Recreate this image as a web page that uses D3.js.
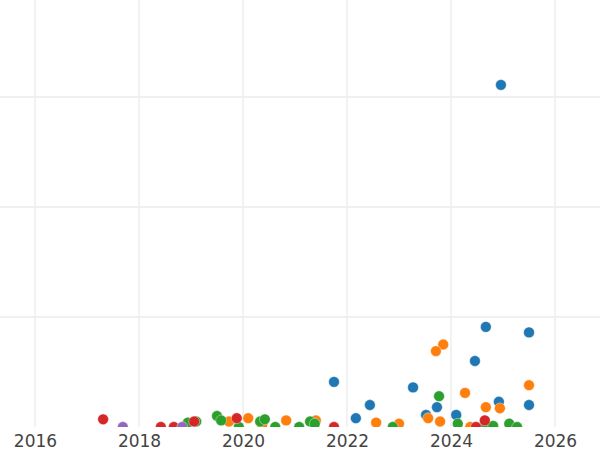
<!DOCTYPE html>
<html>
<head>
<meta charset="utf-8">
<script src="https://cdn.jsdelivr.net/npm/d3@7"></script>
<style>
  html, body { margin: 0; padding: 0; background: #fff; }
  svg { display: block; }
</style>
</head>
<body>
<div id="chart"></div>
<script>
// ---- data (x: decimal year, y: value) ----
const seriesNames = ["blue", "orange", "green", "red", "purple"];
const seriesColors = ["#1f77b4", "#ff7f0e", "#2ca02c", "#d62728", "#9467bd"];

const blueX = [2024.96, 2024.67, 2025.50, 2024.46, 2021.75, 2023.27, 2022.44, 2024.92, 2025.50, 2023.73, 2023.52, 2024.10, 2022.17];
const blueY = [311, 91, 86, 60, 41, 36, 20, 23, 20, 18, 11, 11, 8];

const orangeX = [2023.85, 2023.71, 2025.50, 2024.27, 2024.67, 2024.94, 2023.56, 2023.79, 2022.56, 2023.00, 2021.40, 2020.83, 2020.10, 2019.73, 2020.37, 2024.37];
const orangeY = [75, 69, 38, 31, 18, 17, 8, 5, 4, 3, 6, 6, 8, 5, 2, 0];

const greenX = [2023.77, 2019.50, 2019.58, 2019.92, 2020.33, 2020.42, 2020.62, 2021.08, 2021.29, 2021.38, 2022.88, 2024.13, 2024.65, 2024.81, 2025.12, 2025.27, 2018.94, 2019.10];
const greenY = [28, 10, 6, 0, 5, 7, 0, 0, 5, 3, 0, 3, 2, 1, 3, 0, 4, 5];

const redX = [2017.31, 2018.42, 2018.67, 2019.06, 2019.88, 2021.75, 2024.48, 2024.65];
const redY = [7, 0, 0, 5, 8, 0, 0, 6];

const purpleX = [2017.69, 2018.83];
const purpleY = [0, 0];

const xTicks = [2016, 2018, 2020, 2022, 2024, 2026];
const yGrid = [100, 200, 300];

// ---- layout ----
const W = 600, H = 450;
const plotBottom = 427;

const svg = d3.select("#chart").append("svg")
  .attr("width", W).attr("height", H);

const x = d3.scaleLinear().domain([2015.327, 2026.865]).range([0, W]);
const y = d3.scaleLinear().domain([0, 388.2]).range([plotBottom, 0]);

svg.append("defs").append("clipPath").attr("id", "plotclip")
  .append("rect").attr("x", 0).attr("y", 0).attr("width", W).attr("height", plotBottom);

// gridlines
const grid = svg.append("g").attr("clip-path", "url(#plotclip)");
grid.selectAll("line.vx").data(xTicks).enter().append("line")
  .attr("x1", d => x(d)).attr("x2", d => x(d))
  .attr("y1", 0).attr("y2", plotBottom)
  .attr("stroke", "#ebebeb").attr("stroke-width", 1.3);
grid.selectAll("line.hy").data(yGrid).enter().append("line")
  .attr("x1", 0).attr("x2", W)
  .attr("y1", d => y(d)).attr("y2", d => y(d))
  .attr("stroke", "#ebebeb").attr("stroke-width", 1.3);

// points
const all = [
  [blueX, blueY], [orangeX, orangeY], [greenX, greenY], [redX, redY], [purpleX, purpleY]
];
const pts = svg.append("g").attr("clip-path", "url(#plotclip)");
all.forEach(([xs, ys], i) => {
  const data = xs.map((v, j) => ({x: v, y: ys[j]}));
  pts.append("g").attr("class", seriesNames[i])
    .selectAll("circle").data(data).enter().append("circle")
    .attr("cx", d => x(d.x)).attr("cy", d => y(d.y)).attr("r", 5.4)
    .attr("fill", seriesColors[i])
    .attr("stroke", "#fff").attr("stroke-width", 0.4);
});

// x axis labels
const xAxis = d3.axisBottom(x).tickValues(xTicks).tickFormat(d3.format("d")).tickSize(0).tickPadding(8);
const gx = svg.append("g").attr("transform", `translate(0,${plotBottom})`).call(xAxis);
gx.select(".domain").remove();
gx.selectAll("text")
  .attr("font-family", "DejaVu Sans, sans-serif")
  .attr("font-size", "17px")
  .attr("fill", "#444");
</script>
</body>
</html>
